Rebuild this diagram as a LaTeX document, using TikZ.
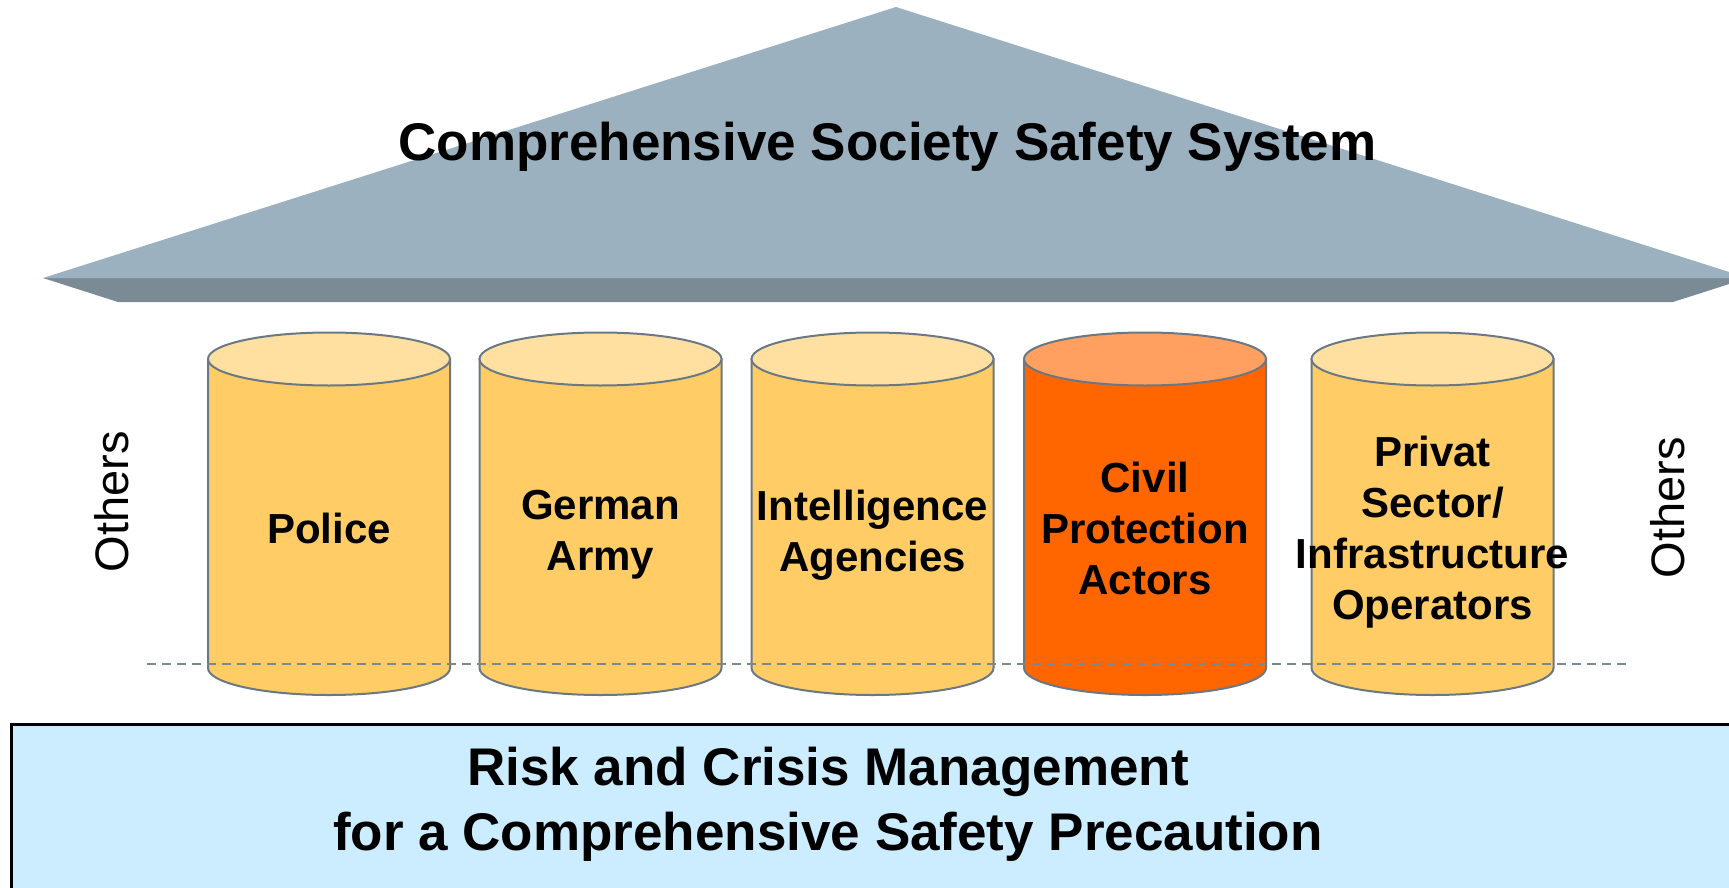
\documentclass[tikz,border=0pt]{standalone}
\usepackage{fontspec}
\setmainfont{Liberation Sans}
\definecolor{rooftop}{HTML}{9BB1BF}
\definecolor{roofband}{HTML}{7A8B96}
\definecolor{cylbody}{HTML}{FFCC66}
\definecolor{cyltop}{HTML}{FFE0A0}
\definecolor{civbody}{HTML}{FF6600}
\definecolor{civtop}{HTML}{FFA060}
\definecolor{cylline}{HTML}{697884}
\definecolor{basefill}{HTML}{CCECFF}
\definecolor{dashcol}{HTML}{7A8791}
\newcommand\mycyl[3]{%
  \filldraw[fill=#2, draw=cylline, line width=2pt] ({#1-121},-359) -- ({#1-121},-668)
    arc[start angle=180,end angle=360,x radius=121pt,y radius=27pt] -- ({#1+121},-359) -- cycle;
  \filldraw[fill=#3, draw=cylline, line width=2pt] (#1,-359) ellipse[x radius=121pt, y radius=26.5pt];
}
\begin{document}
\begin{tikzpicture}[x=1pt,y=1pt,
  lbl/.style={font=\fontsize{42}{51}\selectfont\bfseries, align=center, inner sep=0pt},
  bigtxt/.style={font=\fontsize{53}{65}\selectfont\bfseries, align=center, inner sep=0pt},
  otherstxt/.style={font=\fontsize{47}{56}\selectfont, inner sep=0pt, rotate=90},
  dashline/.style={draw=dashcol, line width=1.6pt, dash pattern=on 9pt off 6pt}]
\clip (0,0) rectangle (1729,-888);
% roof
\coordinate (rl) at (43,-278);
\coordinate (ra) at (896,-7);
\coordinate (rr) at (1748,-278);
\coordinate (bl) at (118,-302);
\coordinate (br) at (1673,-302);
\fill[roofband] (rl) -- (rr) -- (br) -- (bl) -- cycle;
\fill[rooftop] (rl) -- (ra) -- (rr) -- cycle;
\node[bigtxt] (title) at (887.5,-147) {Comprehensive Society Safety System};
% pillars
\mycyl{329}{cylbody}{cyltop}
\mycyl{600.5}{cylbody}{cyltop}
\mycyl{872.5}{cylbody}{cyltop}
\mycyl{1145}{civbody}{civtop}
\mycyl{1432.5}{cylbody}{cyltop}
\node[lbl] (police) at (329,-528) {Police};
\node[lbl] (army) at (600.5,-535) {German\\Army};
\node[lbl] (intel) at (872.5,-535) {Intelligence\\Agencies};
\node[lbl] (civil) at (1145,-528) {Civil\\Protection\\Actors};
\node[lbl] (privat) at (1432.5,-532) {Privat\\Sector/\\Infrastructure\\Operators};
% dashed ground line
\coordinate (dl) at (147,-664);
\coordinate (dr) at (1626,-664);
\draw[dashline] (dl) -- (dr);
% others
\node[otherstxt] (othl) at (112,-502) {Others};
\node[otherstxt] (othr) at (1668,-508) {Others};
% base
\draw[fill=basefill, draw=black, line width=3pt] (11,-724) rectangle (1745,-900);
\node[bigtxt] (base) at (828,-804) {Risk and Crisis Management\\for a Comprehensive Safety Precaution};
\end{tikzpicture}
\end{document}
